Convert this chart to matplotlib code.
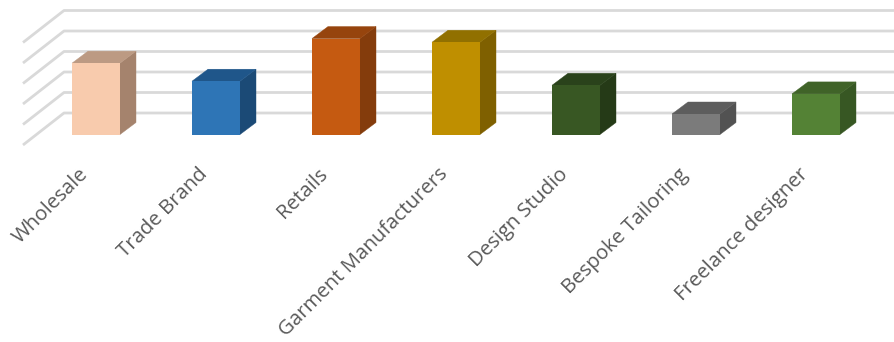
import matplotlib
matplotlib.use("Agg")
import matplotlib.pyplot as plt
from matplotlib.patches import Polygon

categories = ["Wholesale", "Trade Brand", "Retails", "Garment Manufacturers",
              "Design Studio", "Bespoke Tailoring", "Freelance designer"]
values = [17.4, 13.0, 23.4, 22.5, 12.0, 5.0, 9.9]
front_colors = ["#F8CBAD", "#2E75B6", "#C55A11", "#BF8F00", "#385723", "#7B7B7B", "#548235"]
top_colors = ["#BC9A83", "#1F568A", "#96440D", "#917000", "#2A421B", "#5D5D5D", "#406328"]
side_colors = ["#A5836D", "#1B4A76", "#843C0C", "#7F6000", "#253A17", "#525252", "#375723"]
grid_levels = [0, 5, 10, 15, 20, 25]

PX_PER_CAT = 120.0
PX_PER_UNIT = 4.1
BAR_W = 48 / PX_PER_CAT
DEPTH_X = 16 / PX_PER_CAT
DEPTH_Y = 12 / PX_PER_UNIT
# wall and floor offsets of the 3D box, relative to the bar base
WALL_DX = -32 / PX_PER_CAT
WALL_DY = 21.5 / PX_PER_UNIT
FLOOR_DX = -73 / PX_PER_CAT
FLOOR_DY = -10.5 / PX_PER_UNIT
GRID_RIGHT = 7.0

fig = plt.figure(figsize=(8.95, 3.42), dpi=100)
ax = fig.add_axes([0, 0, 1, 1])
ax.set_xlim(-96 / PX_PER_CAT, (895 - 96) / PX_PER_CAT)
ax.set_ylim(-(342 - 134.5) / PX_PER_UNIT, 134.5 / PX_PER_UNIT)
ax.axis("off")

# gridlines running along the back wall and down the side wall
for level in grid_levels:
    ax.plot([FLOOR_DX, WALL_DX, GRID_RIGHT],
            [level + FLOOR_DY, level + WALL_DY, level + WALL_DY],
            color="#D9D9D9", lw=2.0, solid_capstyle="butt", zorder=1)

# each bar is three faces sheared into a box
for i, (v, fc, tc, sc) in enumerate(zip(values, front_colors, top_colors, side_colors)):
    x0, x1 = i - BAR_W / 2, i + BAR_W / 2
    ax.add_patch(Polygon([(x1, 0), (x1 + DEPTH_X, DEPTH_Y), (x1 + DEPTH_X, v + DEPTH_Y), (x1, v)],
                         fc=sc, ec=sc, lw=0.3, zorder=2))
    ax.add_patch(Polygon([(x0, v), (x1, v), (x1 + DEPTH_X, v + DEPTH_Y), (x0 + DEPTH_X, v + DEPTH_Y)],
                         fc=tc, ec=tc, lw=0.3, zorder=2))
    ax.bar(i, v, width=BAR_W, color=fc, zorder=3)

    ax.annotate(categories[i], xy=(i, 0), xytext=(-13, -21.5), textcoords="offset points",
                rotation=45, rotation_mode="anchor", ha="right", va="top",
                fontsize=14.7, color="#595959", family="Open Sans")

fig.savefig("out.png", dpi=100)
